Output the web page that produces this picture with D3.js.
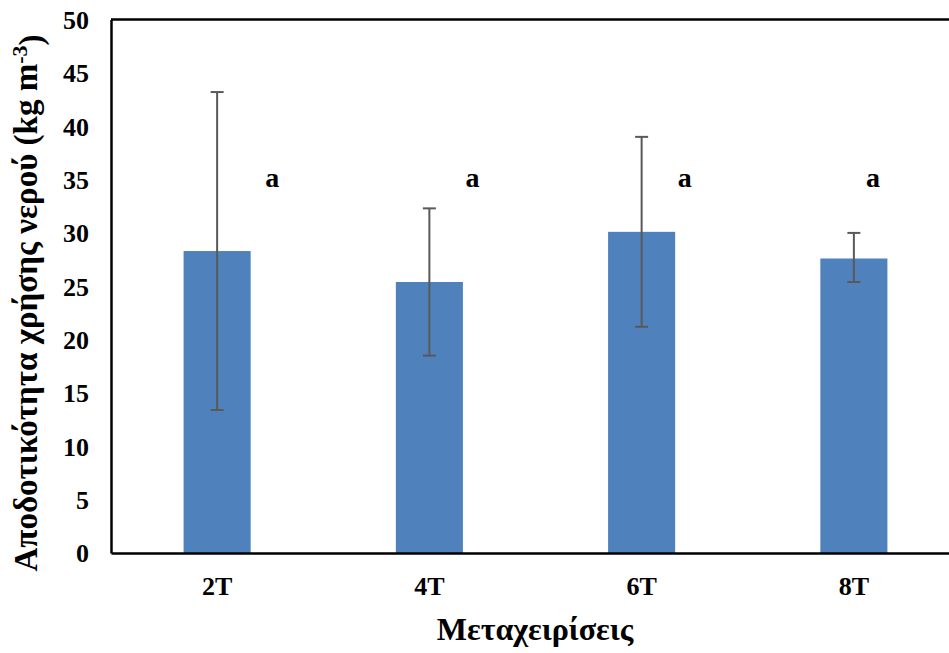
<!DOCTYPE html>
<html>
<head>
<meta charset="utf-8">
<script src="https://cdn.jsdelivr.net/npm/d3@7"></script>
<style>
  body { margin: 0; background: #fff; }
  svg { display: block; }
  text { font-family: "Liberation Serif", "Times New Roman", serif; font-weight: bold; fill: #000; }
</style>
</head>
<body>
<script>
// data
const treatments = ["2T", "4T", "6T", "8T"];
const meanWue = [28.3, 25.4, 30.1, 27.6];
const errLow = [13.4, 18.5, 21.2, 25.4];
const errHigh = [43.2, 32.3, 39.0, 30.0];
const letters = ["a", "a", "a", "a"];
const letterShift = [55, 43, 43, 19]; // px right of bar centre
const yTicks = [0, 5, 10, 15, 20, 25, 30, 35, 40, 45, 50];

const width = 949, height = 653;
const margin = { top: 19.5, left: 111, bottom: 100, right: -11 };

const svg = d3.select("body").append("svg")
  .attr("width", width)
  .attr("height", height);

const x = d3.scaleBand()
  .domain(treatments)
  .range([margin.left, width - margin.right])
  .paddingInner(0.684)
  .paddingOuter(0.342);

const y = d3.scaleLinear()
  .domain([0, 50])
  .range([height - margin.bottom, margin.top]);

// bars
svg.append("g").selectAll("rect")
  .data(treatments)
  .enter().append("rect")
  .attr("x", d => x(d))
  .attr("y", (d, i) => y(meanWue[i]))
  .attr("width", x.bandwidth())
  .attr("height", (d, i) => y(0) - y(meanWue[i]))
  .attr("fill", "#4f81bd");

// error bars
const eb = svg.append("g").attr("stroke", "#595959").attr("stroke-width", 2);
treatments.forEach((t, i) => {
  const cx = x(t) + x.bandwidth() / 2;
  eb.append("line").attr("x1", cx).attr("x2", cx).attr("y1", y(errLow[i])).attr("y2", y(errHigh[i]));
  eb.append("line").attr("x1", cx - 6.5).attr("x2", cx + 6.5).attr("y1", y(errLow[i])).attr("y2", y(errLow[i]));
  eb.append("line").attr("x1", cx - 6.5).attr("x2", cx + 6.5).attr("y1", y(errHigh[i])).attr("y2", y(errHigh[i]));
});

// significance letters
svg.append("g").selectAll("text")
  .data(letters)
  .enter().append("text")
  .attr("x", (d, i) => x(treatments[i]) + x.bandwidth() / 2 + letterShift[i])
  .attr("y", y(35) + 7)
  .attr("text-anchor", "middle")
  .style("font-size", "28px")
  .text(d => d);

// axes frame
const yAxis = svg.append("g")
  .attr("transform", `translate(${margin.left},0)`)
  .call(d3.axisLeft(y).tickValues(yTicks).tickSize(0).tickPadding(22));
yAxis.select(".domain").attr("stroke", "#000").attr("stroke-width", 2.5);
yAxis.selectAll("text").style("font-size", "26px").attr("dy", "0.34em");

const xAxis = svg.append("g")
  .attr("transform", `translate(0,${y(0)})`)
  .call(d3.axisBottom(x).tickSize(0).tickPadding(24));
xAxis.select(".domain").attr("stroke", "#000").attr("stroke-width", 2.5);
xAxis.selectAll("text").style("font-size", "26px");

svg.append("line")
  .attr("x1", margin.left).attr("x2", width)
  .attr("y1", y(50)).attr("y2", y(50))
  .attr("stroke", "#000").attr("stroke-width", 2.5);

// axis titles
svg.append("text")
  .attr("x", 535).attr("y", 640)
  .attr("text-anchor", "middle")
  .style("font-size", "32px")
  .text("Μεταχειρίσεις");

const yt = svg.append("text")
  .attr("transform", "translate(37,303) rotate(-90)")
  .attr("text-anchor", "middle")
  .style("font-size", "33px");
yt.append("tspan").text("Αποδοτικότητα χρήσης νερού (kg m");
yt.append("tspan").attr("dy", "-0.45em").style("font-size", "22px").text("-3");
yt.append("tspan").attr("dy", "0.45em").text(")");
</script>
</body>
</html>
